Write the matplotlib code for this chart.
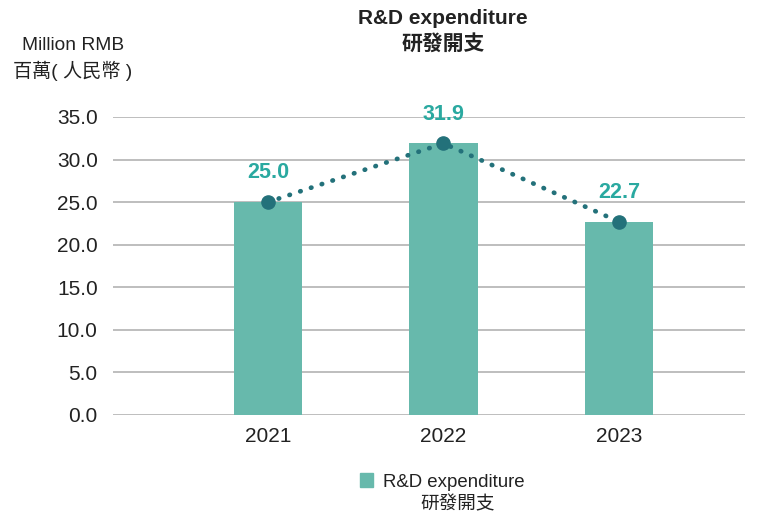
import matplotlib.pyplot as plt
from matplotlib.patches import Patch

plt.rcParams['font.family'] = ['Liberation Sans', 'Noto Sans CJK TC', 'DejaVu Sans']

years = ["2021", "2022", "2023"]
rd_expenditure = [25.0, 31.9, 22.7]
y_ticks = [0, 5, 10, 15, 20, 25, 30, 35]

BAR_COLOR = "#67b9ac"
LINE_COLOR = "#23717a"
LABEL_COLOR = "#2aa9a0"
TEXT_COLOR = "#222222"

fig = plt.figure(figsize=(7.61, 5.19), dpi=100)
ax = fig.add_axes([113 / 761, 1 - 415 / 519, (745 - 113) / 761, (415 - 117) / 519])

x = list(range(len(years)))
ax.bar(x, rd_expenditure, width=0.39, color=BAR_COLOR, zorder=2)
ax.plot(x, rd_expenditure, linestyle=(0, (0.1, 2.3)), linewidth=3.4,
        dash_capstyle="round", color=LINE_COLOR, zorder=3)
ax.plot(x, rd_expenditure, linestyle="none", marker="o", markersize=9.5,
        color=LINE_COLOR, zorder=4)

for xi, v in zip(x, rd_expenditure):
    ax.annotate(f"{v:.1f}", (xi, v), xytext=(0, 21), textcoords="offset points",
                ha="center", va="center", fontsize=15.5, fontweight="bold",
                color=LABEL_COLOR, zorder=5)

ax.set_xlim(-0.883, 2.718)
ax.set_ylim(0, 35)
ax.set_yticks(y_ticks)
ax.set_yticklabels([f"{t:.1f}" for t in y_ticks])
ax.set_xticks(x)
ax.set_xticklabels(years)
ax.tick_params(axis="both", length=0, labelsize=15, colors=TEXT_COLOR)
ax.tick_params(axis="y", pad=11)
ax.tick_params(axis="x", pad=9)
ax.yaxis.grid(True, color="#b3b3b3", linewidth=1.2, zorder=0)
ax.set_axisbelow(True)
for s in ax.spines.values():
    s.set_visible(False)

fig.text(443 / 761, 1 - 18 / 519, "R&D expenditure", ha="center", va="center",
         fontsize=15, fontweight="bold", color=TEXT_COLOR)
fig.text(443 / 761, 1 - 44 / 519, "研發開支", ha="center", va="center",
         fontsize=15, fontweight="bold", color=TEXT_COLOR)

fig.text(73 / 761, 1 - 46 / 519, "Million RMB", ha="center", va="center",
         fontsize=13.8, color=TEXT_COLOR)
fig.text(73 / 761, 1 - 71 / 519, "百萬( 人民幣 )", ha="center", va="center",
         fontsize=13.8, color=TEXT_COLOR)

fig.legend(handles=[Patch(color=BAR_COLOR, label="R&D expenditure")],
           loc="center left", bbox_to_anchor=(343 / 761, 1 - 482 / 519),
           frameon=False, fontsize=13.4, handlelength=0.7, handleheight=0.7,
           handletextpad=0.55, labelcolor=TEXT_COLOR)
fig.text(458 / 761, 1 - 505 / 519, "研發開支", ha="center", va="center",
         fontsize=13.4, color=TEXT_COLOR)

fig.savefig("out.png", dpi=100)
